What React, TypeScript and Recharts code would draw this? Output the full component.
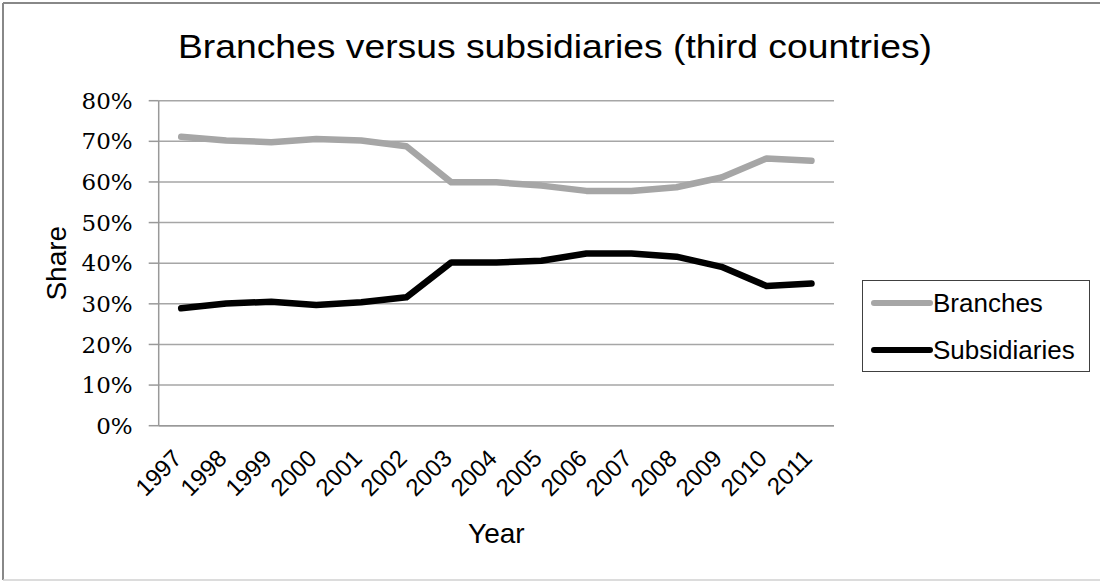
import React from 'react';
import { LineChart, Line, XAxis, YAxis, CartesianGrid, Legend, Label } from 'recharts';

// Share of foreign bank presence in third countries, by legal form (%)
const years = ['1997', '1998', '1999', '2000', '2001', '2002', '2003', '2004', '2005', '2006', '2007', '2008', '2009', '2010', '2011'];
const branches = [71.1, 70.2, 69.8, 70.6, 70.2, 68.8, 59.9, 59.9, 59.1, 57.8, 57.8, 58.7, 61.1, 65.8, 65.2];
const subsidiaries = [28.9, 30.1, 30.5, 29.7, 30.4, 31.6, 40.2, 40.2, 40.6, 42.4, 42.4, 41.6, 39.1, 34.4, 35.0];
const shareTicks = [0, 10, 20, 30, 40, 50, 60, 70, 80];

const data = years.map((year, i) => ({
  year,
  Branches: branches[i],
  Subsidiaries: subsidiaries[i],
}));

const SANS = '"Liberation Sans", Arial, sans-serif';
const SERIF = '"DejaVu Serif", Cambria, serif';

const LegendBox = (props: any) => {
  const items = props.payload || [];
  const rowCenters = [22, 69];
  return (
    <div
      style={{
        position: 'relative',
        width: 226,
        height: 90,
        border: '1px solid #404040',
        background: '#fff',
        fontFamily: SANS,
        fontSize: 26,
        color: '#000',
      }}
    >
      {items.map((item: any, i: number) => (
        <div
          key={item.value}
          style={{
            position: 'absolute',
            left: 8,
            top: rowCenters[i] - 15,
            height: 30,
            display: 'flex',
            alignItems: 'center',
            whiteSpace: 'nowrap',
          }}
        >
          <svg width={62} height={30}>
            <line x1={3} y1={15} x2={59} y2={15} stroke={item.color} strokeWidth={6} strokeLinecap="round" />
          </svg>
          <span>{item.value}</span>
        </div>
      ))}
    </div>
  );
};

const ShareLabel = (props: any) => {
  const vb = props.viewBox;
  const x = vb.x + 66;
  const y = vb.y + vb.height / 2;
  return (
    <text x={x} y={y} transform={`rotate(-90, ${x}, ${y})`} textAnchor="middle" fontFamily={SANS} fontSize={28} fill="#000">
      Share
    </text>
  );
};

const YearLabel = (props: any) => {
  const vb = props.viewBox;
  return (
    <text x={vb.x + vb.width / 2} y={vb.y + 117} textAnchor="middle" fontFamily={SANS} fontSize={28} fill="#000">
      Year
    </text>
  );
};

export default function App() {
  return (
    <div style={{ position: 'absolute', left: 0, top: 0, width: 1102, height: 581, background: '#fff' }}>
      <LineChart
        width={1102}
        height={581}
        data={data}
        margin={{ top: 100.7, right: 268, bottom: 0, left: 0 }}
      >
        <CartesianGrid vertical={false} stroke="#a6a6a6" strokeWidth={1.5} />
        <XAxis
          dataKey="year"
          height={155.3}
          interval={0}
          padding={{ left: 22.5, right: 22.5 }}
          tickLine={false}
          axisLine={{ stroke: '#999', strokeWidth: 1.5 }}
          tickMargin={16}
          angle={-45}
          textAnchor="end"
          tick={{ fontFamily: SANS, fontSize: 24, fill: '#000', dx: -10 }}
        >
          <Label content={<YearLabel />} />
        </XAxis>
        <YAxis
          width={158.7}
          domain={[0, 80]}
          ticks={shareTicks}
          interval={0}
          tickFormatter={(v: number) => `${v}%`}
          tickSize={10}
          tickMargin={16}
          tickLine={{ stroke: '#999', strokeWidth: 1.5 }}
          axisLine={{ stroke: '#999', strokeWidth: 1.5 }}
          tick={{ fontFamily: SERIF, fontSize: 23, fill: '#000' }}
        >
          <Label content={<ShareLabel />} />
        </YAxis>
        <Legend
          layout="horizontal"
          align="center"
          verticalAlign="middle"
          content={<LegendBox />}
          wrapperStyle={{ left: 862, top: 280, width: 228, height: 92 }}
        />
        <Line
          type="linear"
          dataKey="Branches"
          stroke="#a6a6a6"
          strokeWidth={6.5}
          strokeLinecap="round"
          strokeLinejoin="round"
          dot={false}
          activeDot={false}
          isAnimationActive={false}
        />
        <Line
          type="linear"
          dataKey="Subsidiaries"
          stroke="#000"
          strokeWidth={6.5}
          strokeLinecap="round"
          strokeLinejoin="round"
          dot={false}
          activeDot={false}
          isAnimationActive={false}
        />
      </LineChart>
      <svg width={1102} height={581} style={{ position: 'absolute', left: 0, top: 0, pointerEvents: 'none' }}>
        <text
          x={555}
          y={58}
          textAnchor="middle"
          fontFamily={SANS}
          fontSize={33}
          textLength={754}
          lengthAdjust="spacingAndGlyphs"
          fill="#000"
        >
          Branches versus subsidiaries (third countries)
        </text>
        <line x1={3} y1={3} x2={3} y2={580} stroke="#888" strokeWidth={2} />
        <line x1={3} y1={3} x2={1100} y2={3} stroke="#888" strokeWidth={2} />
        <line x1={3} y1={580} x2={1100} y2={580} stroke="#d0d0d0" strokeWidth={1.5} />
      </svg>
    </div>
  );
}
